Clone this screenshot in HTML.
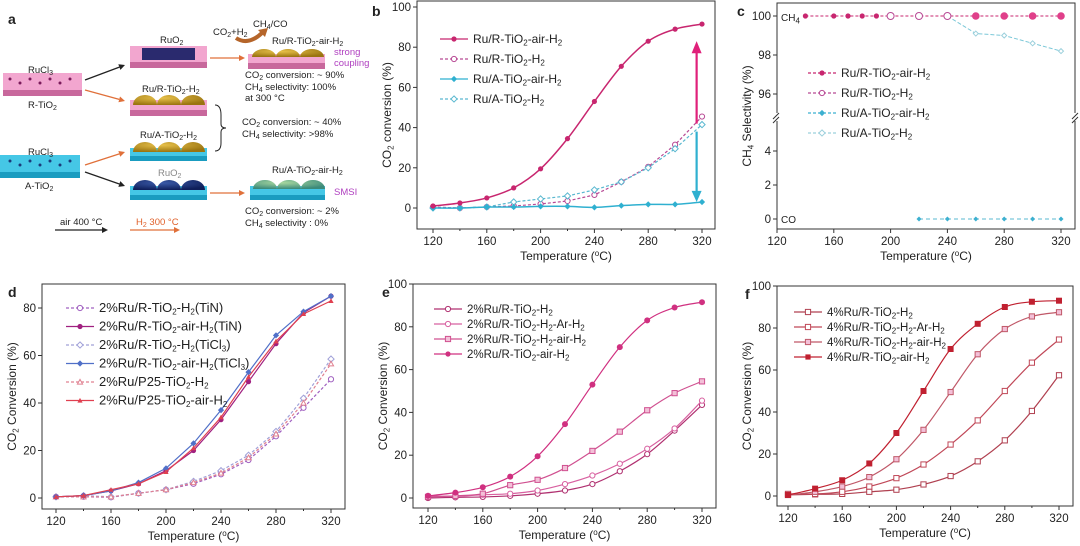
<!DOCTYPE html>
<html><head><meta charset="utf-8"><style>
html,body{margin:0;padding:0;background:#fff}
svg{display:block;font-family:"Liberation Sans",Arial,sans-serif}
</style></head><body>
<svg id="s" width="1080" height="546" viewBox="0 0 1080 546" xmlns="http://www.w3.org/2000/svg">
<defs>
<radialGradient id="gold" cx="40%" cy="30%" r="70%"><stop offset="0" stop-color="#e8c14a"/><stop offset="1" stop-color="#9a7410"/></radialGradient>
<radialGradient id="navy" cx="40%" cy="30%" r="70%"><stop offset="0" stop-color="#3a5aa8"/><stop offset="1" stop-color="#0f1f5a"/></radialGradient>
<radialGradient id="green" cx="40%" cy="30%" r="70%"><stop offset="0" stop-color="#a8d8a0"/><stop offset="1" stop-color="#3c8a7a"/></radialGradient>
</defs>
<!-- Panel a -->
<g font-size="9.5" fill="#222">
<text x="8" y="24" font-size="14" font-weight="bold">a</text>
<rect x="3" y="73" width="79" height="17" fill="#f2a6cf"/><rect x="3" y="90" width="79" height="6" fill="#c8689c"/>
<text x="28" y="73">RuCl<tspan font-size="7" dy="2">3</tspan></text>
<text x="28" y="108">R-TiO<tspan font-size="7" dy="2">2</tspan></text>
<rect x="0" y="155" width="80" height="17" fill="#45c7e6"/><rect x="0" y="172" width="80" height="6" fill="#1a9cc0"/>
<text x="28" y="155">RuCl<tspan font-size="7" dy="2">3</tspan></text>
<text x="25" y="189">A-TiO<tspan font-size="7" dy="2">2</tspan></text>
<g fill="#7a1a5a"><circle cx="10" cy="79" r="1.5"/><circle cx="20" cy="83" r="1.5"/><circle cx="30" cy="79" r="1.5"/><circle cx="40" cy="83" r="1.5"/><circle cx="50" cy="79" r="1.5"/><circle cx="60" cy="83" r="1.5"/><circle cx="70" cy="79" r="1.5"/></g>
<g fill="#1a3a7a"><circle cx="10" cy="161" r="1.5"/><circle cx="20" cy="165" r="1.5"/><circle cx="30" cy="161" r="1.5"/><circle cx="40" cy="165" r="1.5"/><circle cx="50" cy="161" r="1.5"/><circle cx="60" cy="165" r="1.5"/><circle cx="70" cy="161" r="1.5"/></g>
<rect x="130" y="46" width="77" height="16" fill="#f2a6cf"/><rect x="130" y="62" width="77" height="6" fill="#c8689c"/>
<rect x="142" y="48" width="53" height="12" fill="#2a2a6e"/>
<text x="160" y="43">RuO<tspan font-size="7" dy="2">2</tspan></text>
<rect x="130" y="100" width="77" height="10" fill="#f2a6cf"/><rect x="130" y="110" width="77" height="6" fill="#c8689c"/>
<path d="M133 105 a12 10 0 0 1 24 0Z M157 105 a12 10 0 0 1 24 0Z M181 105 a12 10 0 0 1 24 0Z" fill="url(#gold)"/>
<text x="142" y="92">Ru/R-TiO<tspan font-size="7" dy="2">2</tspan><tspan dy="-2">-H</tspan><tspan font-size="7" dy="2">2</tspan></text>
<rect x="130" y="148" width="77" height="8" fill="#45c7e6"/><rect x="130" y="156" width="77" height="5" fill="#1a9cc0"/>
<path d="M133 152 a12 10 0 0 1 24 0Z M157 152 a12 10 0 0 1 24 0Z M181 152 a12 10 0 0 1 24 0Z" fill="url(#gold)"/>
<text x="140" y="138">Ru/A-TiO<tspan font-size="7" dy="2">2</tspan><tspan dy="-2">-H</tspan><tspan font-size="7" dy="2">2</tspan></text>
<text x="158" y="176" fill="#888">RuO<tspan font-size="7" dy="2">2</tspan></text>
<rect x="130" y="186" width="77" height="9" fill="#45c7e6"/><rect x="130" y="195" width="77" height="5" fill="#1a9cc0"/>
<path d="M133 190 a12 10 0 0 1 24 0Z M157 190 a12 10 0 0 1 24 0Z M181 190 a12 10 0 0 1 24 0Z" fill="url(#navy)"/>
<rect x="248" y="54" width="77" height="9" fill="#f2a6cf"/><rect x="248" y="63" width="77" height="6" fill="#c8689c"/>
<path d="M252 57 a12 8 0 0 1 24 0Z M276 57 a12 8 0 0 1 24 0Z M300 57 a12 8 0 0 1 24 0Z" fill="url(#gold)"/>
<text x="272" y="44">Ru/R-TiO<tspan font-size="7" dy="2">2</tspan><tspan dy="-2">-air-H</tspan><tspan font-size="7" dy="2">2</tspan></text>
<text x="334" y="55" fill="#b040c0">strong</text><text x="334" y="66" fill="#b040c0">coupling</text>
<text x="213" y="35">CO<tspan font-size="7" dy="2">2</tspan><tspan dy="-2">+H</tspan><tspan font-size="7" dy="2">2</tspan></text>
<text x="253" y="27">CH<tspan font-size="7" dy="2">4</tspan><tspan dy="-2">/CO</tspan></text>
<path d="M236 38 Q248 46 262 33" stroke="#b5652a" stroke-width="4" fill="none"/>
<path d="M258 30 L268 28 L265 37Z" fill="#b5652a"/>
<text x="245" y="78">CO<tspan font-size="7" dy="2">2</tspan><tspan dy="-2"> conversion: ~ 90%</tspan></text>
<text x="245" y="90">CH<tspan font-size="7" dy="2">4</tspan><tspan dy="-2">  selectivity:  100%</tspan></text>
<text x="245" y="101">at 300 °C</text>
<path d="M215 105 Q221 105 221 115 L221 124 Q221 128 226 128 Q221 128 221 132 L221 143 Q221 151 215 151" stroke="#222" fill="none"/>
<text x="242" y="125">CO<tspan font-size="7" dy="2">2</tspan><tspan dy="-2"> conversion: ~ 40%</tspan></text>
<text x="242" y="137">CH<tspan font-size="7" dy="2">4</tspan><tspan dy="-2">  selectivity:  &gt;98%</tspan></text>
<rect x="250" y="186" width="75" height="9" fill="#45c7e6"/><rect x="250" y="195" width="75" height="5" fill="#1a9cc0"/>
<path d="M253 189 a12 9 0 0 1 24 0Z M277 189 a12 9 0 0 1 24 0Z M301 189 a12 9 0 0 1 24 0Z" fill="url(#green)"/>
<text x="272" y="173">Ru/A-TiO<tspan font-size="7" dy="2">2</tspan><tspan dy="-2">-air-H</tspan><tspan font-size="7" dy="2">2</tspan></text>
<text x="334" y="195" fill="#b040c0">SMSI</text>
<text x="245" y="214">CO<tspan font-size="7" dy="2">2</tspan><tspan dy="-2"> conversion: ~ 2%</tspan></text>
<text x="245" y="226">CH<tspan font-size="7" dy="2">4</tspan><tspan dy="-2">  selectivity :  0%</tspan></text>
<text x="60" y="225">air  400 °C</text>
<text x="136" y="225" fill="#e0602a">H<tspan font-size="7" dy="2">2</tspan><tspan dy="-2"> 300 °C</tspan></text>
</g>
<g id="arrows"></g>
<g id="plots"></g>
</svg>
<script>
const NS="http://www.w3.org/2000/svg";
const P=document.getElementById('plots'), A=document.getElementById('arrows');
function el(t,a,parent){const e=document.createElementNS(NS,t);for(const k in a)e.setAttribute(k,a[k]);(parent||P).appendChild(e);return e;}
function arrow(x1,y1,x2,y2,c,w,hs){const dx=x2-x1,dy=y2-y1,L=Math.hypot(dx,dy),ux=dx/L,uy=dy/L;
 const bx=x2-ux*hs,by=y2-uy*hs;el('line',{x1,y1,x2:bx,y2:by,stroke:c,'stroke-width':w},A);
 el('path',{d:`M${x2} ${y2} L${bx-uy*hs*0.5} ${by+ux*hs*0.5} L${bx+uy*hs*0.5} ${by-ux*hs*0.5}Z`,fill:c},A);}
arrow(85,80,125,65,'#222',1.3,6);arrow(85,90,125,101,'#e0703a',1.3,6);
arrow(85,165,125,152,'#e0703a',1.3,6);arrow(85,172,125,186,'#222',1.3,6);
arrow(210,58,245,58,'#e0703a',1.3,6);arrow(210,193,245,193,'#e0703a',1.3,6);
arrow(55,230,108,230,'#222',1.3,6);arrow(130,230,180,230,'#e0703a',1.3,6);

const T=[120,140,160,180,200,220,240,260,280,300,320];
function smooth(pts){let d=`M${pts[0][0]} ${pts[0][1]}`;for(let i=0;i<pts.length-1;i++){const p0=pts[Math.max(0,i-1)],p1=pts[i],p2=pts[i+1],p3=pts[Math.min(pts.length-1,i+2)];
 d+=` C${p1[0]+(p2[0]-p0[0])/6} ${p1[1]+(p2[1]-p0[1])/6} ${p2[0]-(p3[0]-p1[0])/6} ${p2[1]-(p3[1]-p1[1])/6} ${p2[0]} ${p2[1]}`;}return d;}
function marker(x,y,m,c,r){r=r||2.6;
 if(m=='fc')el('circle',{cx:x,cy:y,r,fill:c});
 else if(m=='oc')el('circle',{cx:x,cy:y,r,fill:'#fff',stroke:c,'stroke-width':1});
 else if(m=='fd')el('path',{d:`M${x} ${y-r-0.5}L${x+r+0.5} ${y}L${x} ${y+r+0.5}L${x-r-0.5} ${y}Z`,fill:c});
 else if(m=='od')el('path',{d:`M${x} ${y-r-0.5}L${x+r+0.5} ${y}L${x} ${y+r+0.5}L${x-r-0.5} ${y}Z`,fill:'#fff',stroke:c,'stroke-width':1});
 else if(m=='fs')el('rect',{x:x-r,y:y-r,width:2*r,height:2*r,fill:c});
 else if(m=='os')el('rect',{x:x-r,y:y-r,width:2*r,height:2*r,fill:'#fff',stroke:c,'stroke-width':1});
 else if(m=='xs'){el('rect',{x:x-r,y:y-r,width:2*r,height:2*r,fill:'#f3c0d8',stroke:c,'stroke-width':1});}
 else if(m=='ot')el('path',{d:`M${x} ${y-r}L${x+r} ${y+r*0.8}L${x-r} ${y+r*0.8}Z`,fill:'#fff',stroke:c,'stroke-width':1});
 else if(m=='ft')el('path',{d:`M${x} ${y-r}L${x+r} ${y+r*0.8}L${x-r} ${y+r*0.8}Z`,fill:c});
}
function txt(x,y,s,o){const t=el('text',Object.assign({x,y,'font-size':11.5,fill:'#222'},o||{}));t.innerHTML=s;return t;}
function sub(s){return s.replace(/_(\w)/g,'<tspan font-size="8" dy="2.5">$1</tspan><tspan dy="-2.5">\u200b</tspan>');}
function axes(cfg){const {L,R,Tp,B,xs,ys,yt,label,ylab,lab}=cfg;
 el('rect',{x:L,y:Tp,width:R-L,height:B-Tp,fill:'none',stroke:'#333','stroke-width':1});
 for(const t of [120,160,200,240,280,320]){const x=xs(t);el('line',{x1:x,y1:B,x2:x,y2:B+4,stroke:'#333'});txt(x,B+16,t,{'text-anchor':'middle'});}
 for(const t of [140,180,220,260,300]){const x=xs(t);el('line',{x1:x,y1:B,x2:x,y2:B+2,stroke:'#333'});}
 for(const t of yt){const y=ys(t);el('line',{x1:L-4,y1:y,x2:L,y2:y,stroke:'#333'});txt(L-6,y+4,t,{'text-anchor':'end'});}
 txt((L+R)/2,B+31,'Temperature (<tspan font-size="8" dy="-4">o</tspan><tspan dy="4">C)</tspan>',{'text-anchor':'middle','font-size':12});
 txt(0,0,sub(ylab),{'text-anchor':'middle','font-size':12,transform:`translate(${L-26},${(Tp+B)/2}) rotate(-90)`});
 txt(lab[1],lab[2],lab[0],{'font-size':14,'font-weight':'bold'});
}
function series(xs,ys,vals,c,m,dash,sm,w,r){const pts=T.map((t,i)=>[xs(t),ys(vals[i])]);
 el('path',{d:sm?smooth(pts):'M'+pts.map(p=>p.join(' ')).join(' L'),fill:'none',stroke:c,'stroke-width':w||1.2,'stroke-dasharray':dash?'3,2':'none'});
 pts.forEach(p=>marker(p[0],p[1],m,c,r));}
function legend(x,y,dy,items,fs){items.forEach((it,i)=>{const yy=y+i*dy;
 el('line',{x1:x,y1:yy,x2:x+28,y2:yy,stroke:it[1],'stroke-width':1.2,'stroke-dasharray':it[3]?'3,2':'none'});
 marker(x+14,yy,it[2],it[1],2.6);txt(x+33,yy+4,sub(it[0]),{'font-size':fs||12});});}
const lin=(a,b,va,vb)=>v=>a+(v-va)*(b-a)/(vb-va);

// b
{const xs=lin(433,702,120,320),ys=lin(208,7,0,100);
axes({L:417,R:715,Tp:1,B:229,xs,ys,yt:[0,20,40,60,80,100],ylab:'CO_2 conversion (%)',lab:['b',372,16]});
const M='#c8266f',C='#2fb0d0';
series(xs,ys,[0.5,0,0.5,1,2,3.5,6.5,13,20.5,31.5,45.5],'#b84a95','oc',1,0);
series(xs,ys,[0,0,0.5,3,4.5,6,9,13,20,29.5,41.5],'#5ab8d0','od',1,0);
series(xs,ys,[0,0,0.5,0.5,0.8,0.8,0.3,1.2,1.8,1.8,3],C,'fd',0,1,1.5);
series(xs,ys,[1,2.5,5,10,19.5,34.5,53,70.5,83,89,91.5],M,'fc',0,1,1.5);
legend(440,39,20,[['Ru/R-TiO_2-air-H_2',M,'fc'],['Ru/R-TiO_2-H_2','#b84a95','oc',1],['Ru/A-TiO_2-air-H_2',C,'fd'],['Ru/A-TiO_2-H_2','#5ab8d0','od',1]]);
const ax=xs(316);el('line',{x1:ax,y1:ys(42),x2:ax,y2:ys(78),stroke:'#e0207a','stroke-width':2.2});el('path',{d:`M${ax} ${ys(82)-2}L${ax+5} ${ys(77)}L${ax-5} ${ys(77)}Z`,fill:'#e0207a'});
el('line',{x1:ax,y1:ys(38),x2:ax,y2:ys(8),stroke:'#2fb0d0','stroke-width':2.2});el('path',{d:`M${ax} ${ys(3)}L${ax+5} ${ys(8.5)}L${ax-5} ${ys(8.5)}Z`,fill:'#2fb0d0'});
}
// c
{const xs=lin(777,1061,120,320);const yT=lin(16,55,100,98),yB=lin(219,185,0,2);
const L=777,R=1075,Tp=3,B=229;
el('rect',{x:L,y:Tp,width:R-L,height:B-Tp,fill:'none',stroke:'#333'});
el('rect',{x:L-6,y:113,width:R-L+12,height:8,fill:'#fff'});
el('path',{d:`M${L-4} 119 l6 -6 M${L-4} 123 l6 -6 M${R-3} 119 l6 -6 M${R-3} 123 l6 -6`,stroke:'#333'});
for(const t of [120,160,200,240,280,320]){const x=xs(t);el('line',{x1:x,y1:B,x2:x,y2:B+4,stroke:'#333'});txt(x,B+16,t,{'text-anchor':'middle'});}
for(const t of [100,98,96]){const y=yT(t);el('line',{x1:L-4,y1:y,x2:L,y2:y,stroke:'#333'});txt(L-6,y+4,t,{'text-anchor':'end'});}
for(const t of [4,2,0]){const y=yB(t);el('line',{x1:L-4,y1:y,x2:L,y2:y,stroke:'#333'});txt(L-6,y+4,t,{'text-anchor':'end'});}
txt(926,260,'Temperature (<tspan font-size="8" dy="-4">o</tspan><tspan dy="4">C)</tspan>',{'text-anchor':'middle','font-size':12});
txt(0,0,sub('CH_4 Selectivity (%)'),{'text-anchor':'middle','font-size':12,transform:`translate(${L-26},116) rotate(-90)`});
txt(737,16,'c',{'font-size':14,'font-weight':'bold'});
txt(781,21,sub('CH_4'),{'font-size':10});txt(781,223,'CO',{'font-size':10});
const M='#c8266f';
el('line',{x1:xs(140),y1:yT(100),x2:xs(320),y2:yT(100),stroke:M,'stroke-dasharray':'3,2'});
el('path',{d:`M${xs(240)} ${yT(100)} L${xs(260)} ${yT(99.1)} L${xs(280)} ${yT(99)} L${xs(300)} ${yT(98.6)} L${xs(320)} ${yT(98.2)}`,fill:'none',stroke:'#7cc8d8','stroke-dasharray':'4,2'});
[260,280,300,320].forEach((t,i)=>marker(xs(t),yT([99.1,99,98.6,98.2][i]),'od','#9cd0dc',2));
[140,160,170,180,190].forEach(t=>marker(xs(t),yT(100),'fc',M,2.6));
[200,220,240].forEach(t=>marker(xs(t),yT(100),'oc','#b84a95',3.5));
[260,280,300,320].forEach(t=>marker(xs(t),yT(100),'fc','#e0408a',3.8));
el('line',{x1:xs(220),y1:yB(0),x2:xs(320),y2:yB(0),stroke:'#5ab8d0','stroke-dasharray':'4,3'});
[220,240,260,280,300,320].forEach(t=>marker(xs(t),yB(0),'fd','#3cb0d0',2));
legend(808,73,20,[['Ru/R-TiO_2-air-H_2',M,'fc',1],['Ru/R-TiO_2-H_2','#b84a95','oc',1],['Ru/A-TiO_2-air-H_2','#3cb0d0','fd',1],['Ru/A-TiO_2-H_2','#9cd0dc','od',1]]);
}
// d
{const xs=lin(56,331,120,320),ys=lin(498,308,0,80);
axes({L:42,R:345,Tp:284,B:509,xs,ys,yt:[0,20,40,60,80],ylab:'CO_2 Conversion (%)',lab:['d',8,297]});
const d1=[0.5,0.5,0.3,2,3.5,6,10,16,26,38,50],d2=[0.5,1,0.5,2,3.5,7,11.5,18,28,42,58.5],d3=[0.5,0.5,0.5,2,3.5,6.5,10.5,17,27,40,56.5];
series(xs,ys,d1,'#a060c0','oc',1,0);series(xs,ys,d2,'#a0a0d8','od',1,0);series(xs,ys,d3,'#e08090','ot',1,0);
series(xs,ys,[0.5,1,3,6,11.5,20,33,49,65,78,85],'#a02080','fc',0,0);
series(xs,ys,[0.5,1,3,6.5,12.5,23,37,53,68.5,78.5,85],'#5070c8','fd',0,0);
series(xs,ys,[0.5,1,3.5,6,11,21,34,51,66,77.5,83],'#e04050','ft',0,0);
legend(66,308,18.5,[['2%Ru/R-TiO_2-H_2(TiN)','#a060c0','oc',1],['2%Ru/R-TiO_2-air-H_2(TiN)','#a02080','fc'],['2%Ru/R-TiO_2-H_2(TiCl_3)','#a0a0d8','od',1],['2%Ru/R-TiO_2-air-H_2(TiCl_3)','#5070c8','fd'],['2%Ru/P25-TiO_2-H_2','#e08090','ot',1],['2%Ru/P25-TiO_2-air-H_2','#e04050','ft']],13);
}
// e
{const xs=lin(428,702,120,320),ys=lin(498,284,0,100);
axes({L:413,R:716,Tp:284,B:508,xs,ys,yt:[0,20,40,60,80,100],ylab:'CO_2 Conversion (%)',lab:['e',382,297]});
series(xs,ys,[0,0.3,0.5,1,2,3.5,6.5,12.5,20.5,31.5,43.5],'#b03070','oc',0,1);
series(xs,ys,[1,0.8,1.5,2,3.5,6.5,10.5,16,23,32.5,45.5],'#d860a0','oc',0,1);
series(xs,ys,[0.5,1,2,6,8.5,14,22,31,41,49,54.5],'#d05090','xs',0,1);
series(xs,ys,[1,2.5,5,10,19.5,34.5,53,70.5,83,89,91.5],'#d03080','fc',0,1,1.2,3);
legend(434,309,15,[['2%Ru/R-TiO_2-H_2','#b03070','oc'],['2%Ru/R-TiO_2-H_2-Ar-H_2','#d860a0','oc'],['2%Ru/R-TiO_2-H_2-air-H_2','#d05090','xs'],['2%Ru/R-TiO_2-air-H_2','#d03080','fc']],11.5);
}
// f
{const xs=lin(788,1059,120,320),ys=lin(496,286,0,100);
axes({L:777,R:1073,Tp:286,B:506,xs,ys,yt:[0,20,40,60,80,100],ylab:'CO_2 Conversion (%)',lab:['f',745,299]});
series(xs,ys,[0.5,0.8,1,2,3,5.5,9.5,16.5,26.5,40.5,57.5],'#b04050','os',0,1);
series(xs,ys,[1,1,2,4.5,8.5,15,24.5,36,50,63.5,74.5],'#c04858','os',0,1);
series(xs,ys,[0.5,2,4.5,9,17.5,31.5,49.5,67.5,79.5,85.5,87.5],'#c05868','xs',0,1);
series(xs,ys,[0.5,3.5,7.5,15.5,30,50,70,82,90,92.5,93],'#c02030','fs',0,1,1.2,3);
legend(794,312,15,[['4%Ru/R-TiO_2-H_2','#b04050','os'],['4%Ru/R-TiO_2-H_2-Ar-H_2','#c04858','os'],['4%Ru/R-TiO_2-H_2-air-H_2','#c05868','xs'],['4%Ru/R-TiO_2-air-H_2','#c02030','fs']],11.5);
}
</script>
</body></html>
